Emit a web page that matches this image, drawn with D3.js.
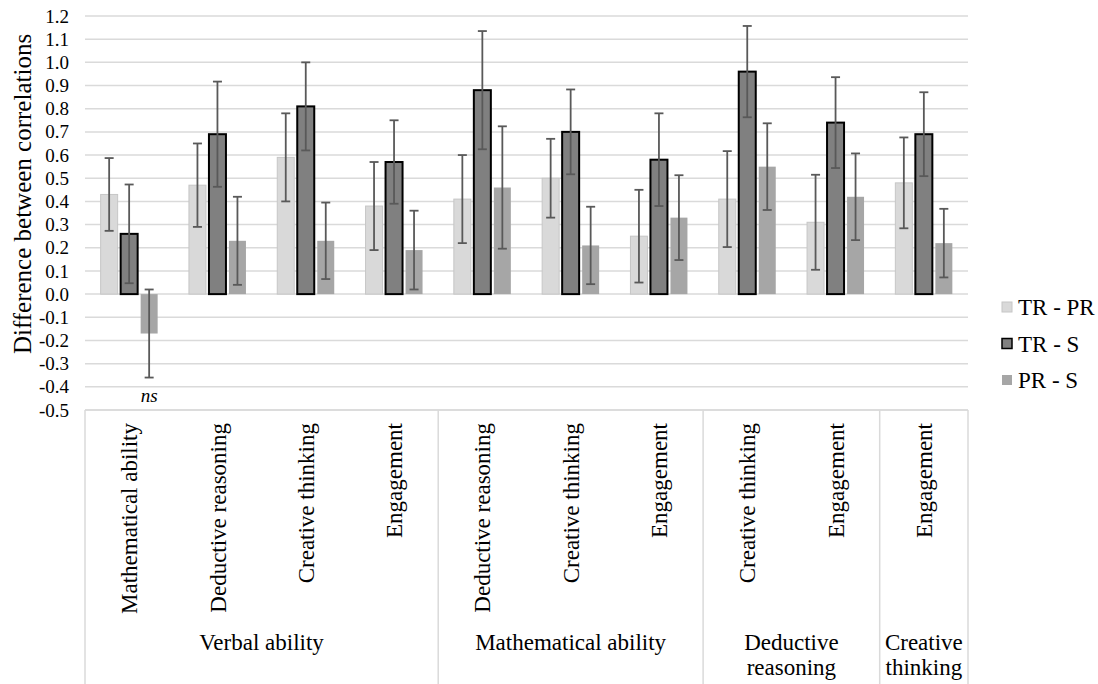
<!DOCTYPE html>
<html>
<head>
<meta charset="utf-8">
<script src="https://cdn.jsdelivr.net/npm/d3@7"></script>
<style>
  html, body { margin: 0; padding: 0; background: #fff; }
</style>
</head>
<body>
<svg id="chart" width="1098" height="684"></svg>
<script>
// Compared measure pairs (inner category) and their grouping (outer category)
const categories = [
  "Mathematical ability", "Deductive reasoning", "Creative thinking", "Engagement",
  "Deductive reasoning", "Creative thinking", "Engagement",
  "Creative thinking", "Engagement",
  "Engagement"
];
const groups = [
  { name: ["Verbal ability"], size: 4 },
  { name: ["Mathematical ability"], size: 3 },
  { name: ["Deductive", "reasoning"], size: 2 },
  { name: ["Creative", "thinking"], size: 1 }
];
const seriesNames = ["TR - PR", "TR - S", "PR - S"];

// Differences between correlations
const trPr = [0.43, 0.47, 0.59, 0.38, 0.41, 0.50, 0.25, 0.41, 0.31, 0.48];
const trS  = [0.26, 0.69, 0.81, 0.57, 0.88, 0.70, 0.58, 0.96, 0.74, 0.69];
const prS  = [-0.17, 0.23, 0.23, 0.19, 0.46, 0.21, 0.33, 0.55, 0.42, 0.22];

// Half-widths of the confidence intervals
const trPrErr = [0.157, 0.18, 0.19, 0.19, 0.19, 0.17, 0.20, 0.207, 0.205, 0.196];
const trSErr  = [0.213, 0.227, 0.19, 0.18, 0.255, 0.183, 0.20, 0.197, 0.196, 0.181];
const prSErr  = [0.19, 0.19, 0.165, 0.17, 0.264, 0.167, 0.183, 0.187, 0.187, 0.148];

const yTicks = d3.range(-5, 13).map(d => d / 10);
const nsLabels = [{ cat: 0, series: "PR - S", text: "ns" }];

const values = [trPr, trS, prS];
const errors = [trPrErr, trSErr, prSErr];

const FONT = "Liberation Serif";

const styles = {
  "TR - PR": { fill: "#d9d9d9", stroke: "#c6c6c6", sw: 1 },
  "TR - S":  { fill: "#808080", stroke: "#000000", sw: 2 },
  "PR - S":  { fill: "#a6a6a6", stroke: "none", sw: 0 }
};

const svg = d3.select("#chart").attr("font-family", FONT);
const plot = { left: 85, right: 968, top: 16, bottom: 410 };
const gridColor = "#dadada";

const x0 = d3.scaleBand().domain(d3.range(categories.length)).range([plot.left, plot.right]);
const x1 = d3.scaleBand().domain(seriesNames).range([-28.5, 28.5]).paddingInner(0.15);
const y = d3.scaleLinear().domain([-0.5, 1.2]).range([plot.bottom, plot.top]);

const fmt = d3.formatLocale({ decimal: ".", thousands: ",", grouping: [3], currency: ["", ""], minus: "-" }).format(".1f");

// Horizontal gridlines
svg.append("g")
  .selectAll("line")
  .data(yTicks)
  .join("line")
  .attr("x1", plot.left).attr("x2", plot.right)
  .attr("y1", d => y(d)).attr("y2", d => y(d))
  .attr("stroke", gridColor).attr("stroke-width", 1.5);

// Y axis labels
const yAxis = svg.append("g")
  .attr("transform", `translate(${plot.left - 16},0)`)
  .call(d3.axisLeft(y).tickValues(yTicks).tickFormat(fmt).tickSize(0).tickPadding(0));
yAxis.attr("font-family", FONT).attr("font-size", 19);
yAxis.select(".domain").remove();
yAxis.selectAll("text").attr("fill", "#000");

svg.append("text")
  .attr("transform", "translate(22,194) rotate(-90)")
  .attr("text-anchor", "middle")
  .attr("dy", "0.35em")
  .attr("font-size", 25)
  .attr("font-family", FONT)
  .text("Difference between correlations");

// Bars
const rows = [];
seriesNames.forEach((s, si) => {
  categories.forEach((c, ci) => {
    rows.push({ s, ci, v: values[si][ci], e: errors[si][ci] });
  });
});

const cx = ci => x0(ci) + x0.bandwidth() / 2;

svg.append("g")
  .selectAll("rect")
  .data(rows)
  .join("rect")
  .attr("x", d => cx(d.ci) + x1(d.s))
  .attr("width", x1.bandwidth())
  .attr("y", d => y(Math.max(0, d.v)))
  .attr("height", d => Math.abs(y(d.v) - y(0)))
  .attr("fill", d => styles[d.s].fill)
  .attr("stroke", d => styles[d.s].stroke)
  .attr("stroke-width", d => styles[d.s].sw);

// Error bars
const eb = svg.append("g").attr("stroke", "#595959").attr("stroke-width", 1.8).attr("fill", "none");
const ex = d => cx(d.ci) + x1(d.s) + x1.bandwidth() / 2;
eb.selectAll("line.v").data(rows).join("line").attr("class", "v")
  .attr("x1", ex).attr("x2", ex)
  .attr("y1", d => y(d.v + d.e)).attr("y2", d => y(d.v - d.e));
eb.selectAll("line.t").data(rows).join("line").attr("class", "t")
  .attr("x1", d => ex(d) - 4.5).attr("x2", d => ex(d) + 4.5)
  .attr("y1", d => y(d.v + d.e)).attr("y2", d => y(d.v + d.e));
eb.selectAll("line.b").data(rows).join("line").attr("class", "b")
  .attr("x1", d => ex(d) - 4.5).attr("x2", d => ex(d) + 4.5)
  .attr("y1", d => y(d.v - d.e)).attr("y2", d => y(d.v - d.e));

// Non-significance marker
svg.append("g").selectAll("text")
  .data(nsLabels)
  .join("text")
  .attr("x", d => cx(d.cat) + x1(d.series) + x1.bandwidth() / 2)
  .attr("y", d => y(values[seriesNames.indexOf(d.series)][d.cat] - errors[seriesNames.indexOf(d.series)][d.cat]) + 24)
  .attr("text-anchor", "middle")
  .attr("font-style", "italic")
  .attr("font-size", 19)
  .attr("font-family", FONT)
  .text(d => d.text);

// Category frame: top rule and group dividers
const frame = svg.append("g").attr("stroke", gridColor).attr("stroke-width", 1.5);
frame.append("line")
  .attr("x1", plot.left).attr("x2", plot.right)
  .attr("y1", plot.bottom).attr("y2", plot.bottom);
let acc = 0;
const bounds = [0];
groups.forEach(g => { acc += g.size; bounds.push(acc); });
const bx = b => b === categories.length ? plot.right : x0(b);
frame.selectAll("line.div")
  .data(bounds)
  .join("line")
  .attr("class", "div")
  .attr("x1", bx).attr("x2", bx)
  .attr("y1", plot.bottom).attr("y2", 684);

// Inner category labels
svg.append("g").selectAll("text")
  .data(categories)
  .join("text")
  .attr("transform", (d, i) => `translate(${cx(i)},423) rotate(-90)`)
  .attr("text-anchor", "end")
  .attr("dy", "0.35em")
  .attr("font-size", 23)
  .attr("font-family", FONT)
  .text(d => d);

// Outer group labels
const gl = svg.append("g").selectAll("text")
  .data(groups.map((g, i) => ({ g, mid: (bx(bounds[i]) + bx(bounds[i + 1])) / 2 })))
  .join("text")
  .attr("x", d => d.mid)
  .attr("y", 650)
  .attr("text-anchor", "middle")
  .attr("font-size", 23)
  .attr("font-family", FONT);
gl.selectAll("tspan")
  .data(d => d.g.name.map((t, k) => ({ t, k, x: d.mid })))
  .join("tspan")
  .attr("x", d => d.x)
  .attr("dy", d => d.k === 0 ? 0 : 25)
  .text(d => d.t);

// Legend
const legend = svg.append("g").attr("transform", "translate(1002,307)");
const li = legend.selectAll("g")
  .data(seriesNames)
  .join("g")
  .attr("transform", (d, i) => `translate(0,${i * 36.5})`);
li.append("rect")
  .attr("x", 0).attr("y", -5).attr("width", 10).attr("height", 10)
  .attr("fill", d => styles[d].fill)
  .attr("stroke", d => styles[d].stroke)
  .attr("stroke-width", d => d === "TR - S" ? 1.5 : styles[d].sw);
li.append("text")
  .attr("x", 16).attr("dy", "0.35em")
  .attr("font-size", 23)
  .attr("font-family", FONT)
  .text(d => d);
</script>
</body>
</html>
